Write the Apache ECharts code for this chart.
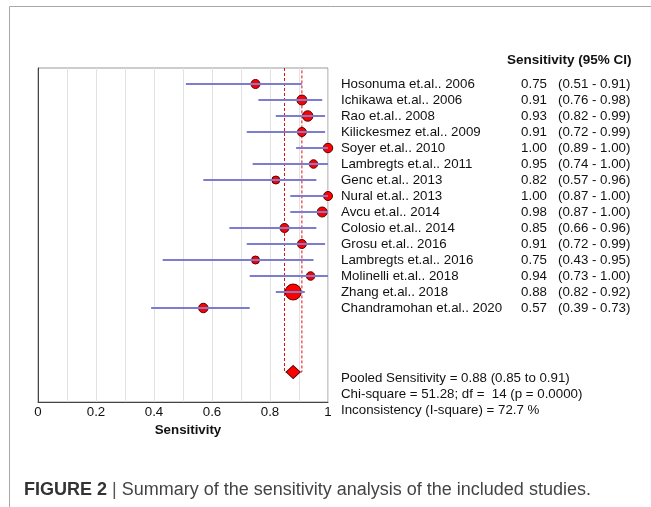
<!DOCTYPE html>
<html>
<head>
<meta charset="utf-8">
<script src="https://cdn.jsdelivr.net/npm/echarts@6/dist/echarts.min.js"></script>
<style>
  html, body { margin: 0; padding: 0; background: #fff; }
  #main { width: 651px; height: 507px; }
</style>
</head>
<body>
<div id="main"></div>
<script>
// studies, in plot order (top to bottom)
var studies = ["Hosonuma et.al.. 2006", "Ichikawa et.al.. 2006", "Rao et.al.. 2008", "Kilickesmez et.al.. 2009",
  "Soyer et.al.. 2010", "Lambregts et.al.. 2011", "Genc et.al.. 2013", "Nural et.al.. 2013", "Avcu et.al.. 2014",
  "Colosio et.al.. 2014", "Grosu et.al.. 2016", "Lambregts et.al.. 2016", "Molinelli et.al.. 2018",
  "Zhang et.al.. 2018", "Chandramohan et.al.. 2020"];
var sens   = [0.75, 0.91, 0.93, 0.91, 1.00, 0.95, 0.82, 1.00, 0.98, 0.85, 0.91, 0.75, 0.94, 0.88, 0.57];
var ciLow  = [0.51, 0.76, 0.82, 0.72, 0.89, 0.74, 0.57, 0.87, 0.87, 0.66, 0.72, 0.43, 0.73, 0.82, 0.39];
var ciHigh = [0.91, 0.98, 0.99, 0.99, 1.00, 1.00, 0.96, 1.00, 1.00, 0.96, 0.99, 0.95, 1.00, 0.92, 0.73];
// relative study weight (marker size)
var weight = [9, 10, 10.5, 9, 9.5, 8.5, 8, 9, 10, 9, 9, 8, 8.5, 16, 9.5];

var pooled = 0.88, pooledLow = 0.85, pooledHigh = 0.91;
var tickLabels = ["0", "0.2", "0.4", "0.6", "0.8", "1"];
var stats = ["Pooled Sensitivity = 0.88 (0.85 to 0.91)",
  "Chi-square = 51.28; df =  14 (p = 0.0000)",
  "Inconsistency (I-square) = 72.7 %"];

var FONT = "'Liberation Sans', Arial, sans-serif";
var pooledRow = 18;

var chart = echarts.init(document.getElementById("main"), null, { renderer: "canvas" });

var fmt = function (v) { return v.toFixed(2); };

var option = {
  backgroundColor: "#fff",
  animation: false,
  grid: { left: 38, top: 68, width: 290, height: 334, show: true, borderColor: "#999", borderWidth: 1 },
  xAxis: {
    type: "value", min: 0, max: 1, interval: 0.1,
    name: "Sensitivity", nameLocation: "middle", nameGap: 19,
    nameTextStyle: { fontFamily: FONT, fontSize: 13.3, fontWeight: "bold", color: "#111", padding: [0, 0, 0, 10] },
    axisLine: { show: true, onZero: false, lineStyle: { color: "#444", width: 1 } },
    axisTick: { show: false },
    axisLabel: {
      margin: 4, fontFamily: FONT, fontSize: 13.3, color: "#111",
      showMinLabel: true, showMaxLabel: true,
      formatter: function (v) {
        var k = Math.round(v * 10);
        return k % 2 === 0 ? tickLabels[k / 2] : "";
      }
    },
    splitLine: { show: true, lineStyle: { color: "#e2e2e2", width: 1 } }
  },
  yAxis: {
    type: "value", inverse: true, min: -1, max: 19.875,
    axisLine: { show: true, onZero: false, lineStyle: { color: "#444", width: 1 } },
    axisTick: { show: false }, axisLabel: { show: false }, splitLine: { show: false }
  },
  series: [
    // pooled CI dashed box
    {
      type: "custom", z: 2, silent: true,
      data: [[pooledLow, pooledHigh, pooledRow]],
      encode: { x: [0, 1], y: 2 },
      renderItem: function (params, api) {
        var lo = api.value(0), hi = api.value(1), r = api.value(2);
        var a = api.coord([lo, -1]), b = api.coord([lo, r]), c = api.coord([hi, r]), d = api.coord([hi, -1]);
        return {
          type: "polyline",
          shape: { points: [a, b, c, d] },
          style: { stroke: "#e01010", lineWidth: 1, lineDash: [3, 2], fill: null }
        };
      }
    },
    // study points
    {
      type: "scatter", z: 3,
      data: sens.map(function (s, i) { return [s, i, weight[i]]; }),
      symbol: "circle",
      symbolSize: function (v) { return v[2]; },
      itemStyle: { color: "#ff0000", borderColor: "#5a0000", borderWidth: 1, opacity: 1 }
    },
    // confidence intervals
    {
      type: "custom", z: 4, silent: true,
      data: sens.map(function (s, i) { return [ciLow[i], ciHigh[i], i]; }),
      encode: { x: [0, 1], y: 2 },
      renderItem: function (params, api) {
        var p1 = api.coord([api.value(0), api.value(2)]);
        var p2 = api.coord([api.value(1), api.value(2)]);
        return {
          type: "line",
          shape: { x1: p1[0], y1: Math.round(p1[1]), x2: p2[0], y2: Math.round(p2[1]) },
          style: { stroke: "#7c7cd0", lineWidth: 2 }
        };
      }
    },
    // pooled diamond
    {
      type: "scatter", z: 5,
      data: [[pooled, pooledRow]],
      symbol: "diamond", symbolSize: [14, 13],
      itemStyle: { color: "#ff0000", borderColor: "#5a0000", borderWidth: 1, opacity: 1 }
    },
    // text column
    {
      type: "custom", z: 6, silent: true, clip: false,
      data: studies.map(function (s, i) { return [0, i]; }),
      encode: { x: 0, y: 1 },
      renderItem: function (params, api) {
        var i = params.dataIndex;
        var y = api.coord([0, i])[1];
        var base = { fontFamily: FONT, fontSize: 13.3, fill: "#111", verticalAlign: "middle" };
        return {
          type: "group",
          children: [
            { type: "text", x: 341, y: y, style: Object.assign({ text: studies[i], align: "left" }, base) },
            { type: "text", x: 547, y: y, style: Object.assign({ text: fmt(sens[i]), align: "right" }, base) },
            { type: "text", x: 558, y: y, style: Object.assign({ text: "(" + fmt(ciLow[i]) + " - " + fmt(ciHigh[i]) + ")", align: "left" }, base) }
          ]
        };
      }
    }
  ],
  graphic: [
    { type: "rect", shape: { x: 9.5, y: 6.5, width: 700, height: 600 }, style: { fill: null, stroke: "#a8a8a8", lineWidth: 1 }, silent: true },
    { type: "text", x: 507, y: 60, style: { text: "Sensitivity (95% CI)", fontFamily: FONT, fontSize: 13.5, fontWeight: "bold", fill: "#111", verticalAlign: "middle" } },
    { type: "text", x: 341, y: 378, style: { text: stats[0], fontFamily: FONT, fontSize: 13.3, fill: "#111", verticalAlign: "middle" } },
    { type: "text", x: 341, y: 394, style: { text: stats[1], fontFamily: FONT, fontSize: 13.3, fill: "#111", verticalAlign: "middle" } },
    { type: "text", x: 341, y: 410, style: { text: stats[2], fontFamily: FONT, fontSize: 13.3, fill: "#111", verticalAlign: "middle" } },
    {
      type: "text", x: 24, y: 490,
      style: {
        text: "{b|FIGURE 2}{s| | }{r|Summary of the sensitivity analysis of the included studies.}",
        verticalAlign: "middle",
        rich: {
          b: { fontFamily: FONT, fontSize: 18, fontWeight: "bold", fill: "#333" },
          s: { fontFamily: FONT, fontSize: 18, fill: "#555" },
          r: { fontFamily: FONT, fontSize: 18, fill: "#444" }
        }
      }
    }
  ]
};

chart.setOption(option);
</script>
</body>
</html>
